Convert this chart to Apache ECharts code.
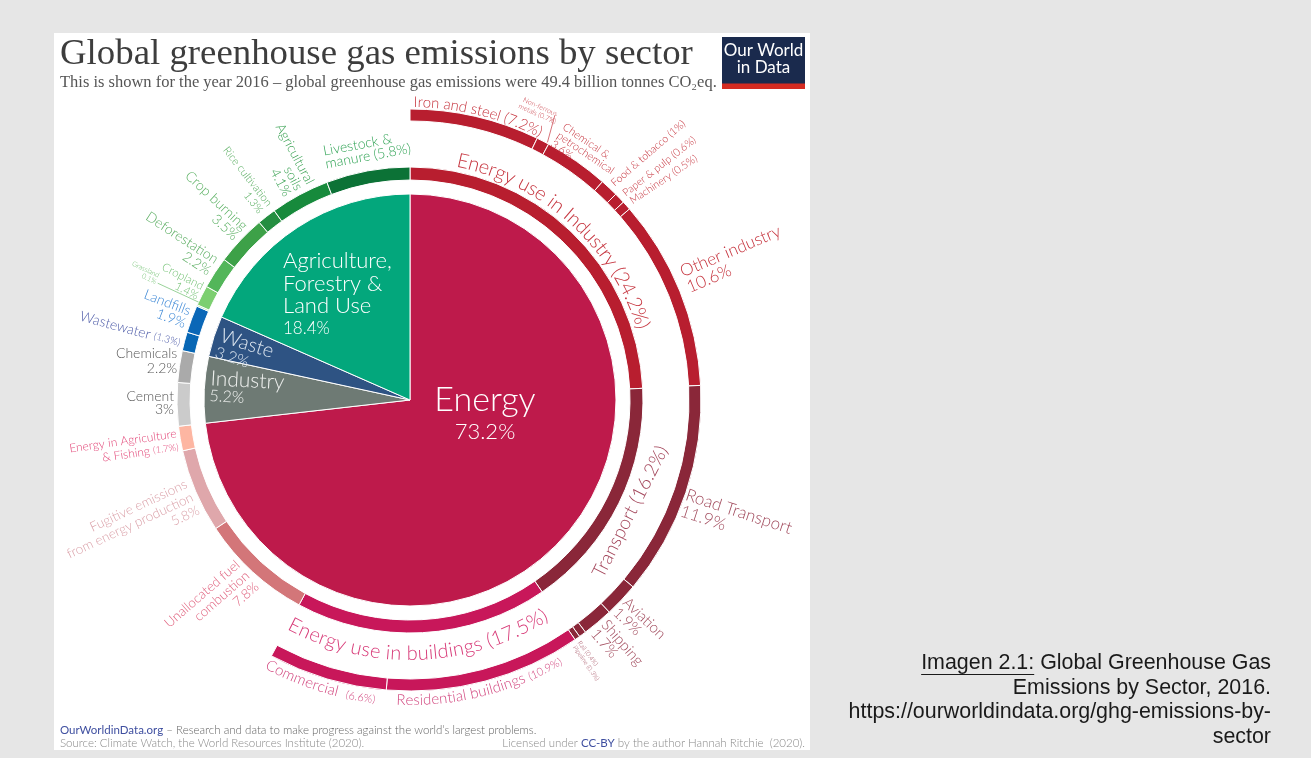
<!DOCTYPE html>
<html>
<head>
<meta charset="utf-8">
<title>Global greenhouse gas emissions by sector</title>
<script src="https://cdn.jsdelivr.net/npm/echarts@6.0.0/dist/echarts.min.js"></script>
<style>
html,body{margin:0;padding:0;background:#e6e6e6;}
#chart{width:1311px;height:758px;}
</style>
</head>
<body>
<div id="chart"></div>
<script>
// ---- Share of global greenhouse gas emissions in 2016 (%) ----
const sectors = ['Energy', 'Industry', 'Waste', 'Agriculture, Forestry & Land Use'];
const sectorValues = [73.2, 5.2, 3.2, 18.4];

const subSectors = [
  'Energy use in Industry', 'Transport', 'Energy use in buildings',
  'Unallocated fuel combustion', 'Fugitive emissions from energy production',
  'Energy in Agriculture & Fishing', 'Cement', 'Chemicals', 'Wastewater', 'Landfills',
  'Grassland', 'Cropland', 'Deforestation', 'Crop burning', 'Rice cultivation',
  'Agricultural soils', 'Livestock & manure'
];
const subSectorValues = [24.2, 16.2, 17.5, 7.8, 5.8, 1.7, 3, 2.2, 1.3, 1.9, 0.1, 1.4, 2.2, 3.5, 1.3, 4.1, 5.8];

const endUses = [
  'Iron and steel', 'Non-ferrous metals', 'Chemical & petrochemical', 'Food & tobacco',
  'Paper & pulp', 'Machinery', 'Other industry', 'Road Transport', 'Aviation', 'Shipping',
  'Rail', 'Pipeline', 'Residential buildings', 'Commercial'
];
const endUseValues = [7.2, 0.7, 3.6, 1, 0.6, 0.5, 10.6, 11.9, 1.9, 1.7, 0.4, 0.3, 10.9, 6.6];

// ---- Colours ----
const RED = '#B81E2F', MAROON = '#8A2739', MAGENTA = '#C8175A';
const sectorColors = ['#BE1A4B', '#6E7A74', '#2E5383', '#03A77C'];
const subSectorColors = [
  RED, MAROON, MAGENTA, '#D37679', '#DFA7AB', '#FDB6A2', '#CBCBCB', '#AAAAAA',
  '#0867B5', '#0A67B7', '#9ADB8E', '#7CCF70', '#53B65A', '#3DA148', '#248E41', '#178A3C', '#0C7236'
];
const endUseColors = [RED, RED, RED, RED, RED, RED, RED, MAROON, MAROON, MAROON, MAROON, MAROON, MAGENTA, MAGENTA];

// ---- Geometry ----
const CX = 410, CY = 400;
const R_PIE = 206, R_MID = [220, 233], R_OUT = [279, 291];
const LATO = 'Lato', SERIF = 'Liberation Serif', SANS = 'Liberation Sans';

const TOTAL = sectorValues.reduce((a, b) => a + b, 0);
const sum = a => a.reduce((s, v) => s + v, 0);

const cv = document.createElement('canvas').getContext('2d');
function textWidth(s, size, family, weight) {
  cv.font = `${weight} ${size}px "${family}"`;
  return cv.measureText(s).width;
}
function fitSize(s, family, weight, width) {
  return 20 * width / textWidth(s, 20, family, weight);
}
const rad = d => d * Math.PI / 180;
function polar(deg, r) {
  const a = rad(deg);
  return [CX + r * Math.sin(a), CY - r * Math.cos(a)];
}
function spans(values) {
  let acc = 0;
  return values.map(v => { const s = acc; acc += v; return { start: s / TOTAL * 360, mid: (s + v / 2) / TOTAL * 360 }; });
}
const RINGS = {
  sector: { names: sectors, values: sectorValues, spans: spans(sectorValues) },
  sub: { names: subSectors, values: subSectorValues, spans: spans(subSectorValues) },
  end: { names: endUses, values: endUseValues, spans: spans(endUseValues) }
};

// ---- Label placement (angles are offsets from the slice's middle) ----
const C_IND = '#C6353F', C_TRA = '#A24C5E';
const LABELS = [
  // inner pie
  { ring: 'sector', name: 'Energy', kind: 'inner', dx: 75, dy: 13, align: 'center', va: 'middle',
    text: '{a|Energy}\n{b|{v}%}', rich: { a: [34, 38], b: [22, 26] }, color: '#ffffff' },
  { ring: 'sector', name: 'Agriculture, Forestry & Land Use', kind: 'inner', dx: -127, dy: -150, align: 'left', va: 'top',
    text: '{a|Agriculture,}\n{a|Forestry &}\n{a|Land Use}\n{b|{v}%}', rich: { a: [22, 22.5], b: [17, 22] }, color: '#ffffff' },
  { ring: 'sector', name: 'Waste', kind: 'inner', dx: -186, dy: -74, rot: -18, align: 'left', va: 'top',
    text: '{a|Waste}\n{b|{v}%}', rich: { a: [20, 19], b: [16, 17] }, color: '#DDE6F0' },
  { ring: 'sector', name: 'Industry', kind: 'inner', dx: -199, dy: -31, rot: -3, align: 'left', va: 'top',
    text: '{a|Industry}\n{b|{v}%}', rich: { a: [21, 19], b: [16, 16] }, color: '#EEF0EE' },

  // middle ring
  { ring: 'sub', name: 'Energy use in Industry', kind: 'arcOut', dAng: -1.5, r: 238, segs: [['Energy use in Industry ({v}%)', 20]], color: C_IND },
  { ring: 'sub', name: 'Transport', kind: 'tanIn', dAng: 0.6, r: 247, size: 19, text: 'Transport ({v}%)', color: '#A3455A' },
  { ring: 'sub', name: 'Energy use in buildings', kind: 'arcIn', dAng: 1, r: 260, segs: [['Energy use in buildings ({v}%)', 20]], color: '#D83C79' },
  { ring: 'sub', name: 'Unallocated fuel combustion', kind: 'rot', dAng: 0.6, r: 238, rot: 41, align: 'right', size: 13.5, lh: 14.5,
    text: 'Unallocated fuel\ncombustion\n{v}%', color: '#E0637F' },
  { ring: 'sub', name: 'Fugitive emissions from energy production', kind: 'rot', dAng: -0.9, r: 238, rot: 25, align: 'right', size: 13.5, lh: 14.5,
    text: 'Fugitive emissions\nfrom energy production\n{v}%', color: '#DBA2AA' },
  { ring: 'sub', name: 'Energy in Agriculture & Fishing', kind: 'rot', dAng: -0.3, r: 236, rot: 8, align: 'right',
    text: '{a|Energy in Agriculture}\n{a|& Fishing }{b|({v}%)}', rich: { a: [12, 13.5], b: [9.5, 13.5] }, color: '#E24577' },
  { ring: 'sub', name: 'Cement', kind: 'rot', dAng: 0.4, r: 236, rot: 0, align: 'right', size: 14, lh: 13.5, text: 'Cement\n{v}%', color: '#585858' },
  { ring: 'sub', name: 'Chemicals', kind: 'rot', dAng: 1.2, r: 236, rot: 0, align: 'right', size: 14, lh: 15, text: 'Chemicals\n{v}%', color: '#585858' },
  { ring: 'sub', name: 'Wastewater', kind: 'rot', dAng: -0.6, r: 237, rot: -15, align: 'right',
    text: '{a|Wastewater }{b|({v}%)}', rich: { a: [14, 15], b: [10, 15] }, color: '#4D5BA8' },
  { ring: 'sub', name: 'Landfills', kind: 'rot', dAng: 0, r: 237, rot: -21, align: 'right', size: 14, lh: 13.5, text: 'Landfills\n{v}%', color: '#3D88D6' },
  { ring: 'sub', name: 'Grassland', kind: 'rot', dAng: 1.7, r: 280, rot: -25, align: 'right', size: 7, lh: 7, text: 'Grassland\n{v}%', color: '#6DBF6D',
    leader: [0.9, 233, 0.9, 278] },
  { ring: 'sub', name: 'Cropland', kind: 'rot', dAng: 0.7, r: 236, rot: -27, align: 'right', size: 11.5, lh: 11, text: 'Cropland\n{v}%', color: '#72C173' },
  { ring: 'sub', name: 'Deforestation', kind: 'rot', dAng: 1.1, r: 238, rot: -33, align: 'right', size: 14, lh: 13.5, text: 'Deforestation\n{v}%', color: '#5CAE63' },
  { ring: 'sub', name: 'Crop burning', kind: 'rot', dAng: 1.3, r: 238, rot: -43, align: 'right', size: 14, lh: 13.5, text: 'Crop burning\n{v}%', color: '#5AB062' },
  { ring: 'sub', name: 'Rice cultivation', kind: 'rot', dAng: 0.9, r: 240, rot: -52, align: 'right', size: 11, lh: 11.5, text: 'Rice cultivation\n{v}%', color: '#57AD5F' },
  { ring: 'sub', name: 'Agricultural soils', kind: 'rot', dAng: 0.5, r: 238, rot: -61.7, align: 'right', size: 13.5, lh: 13, text: 'Agricultural\nsoils\n{v}%', color: '#38A151' },
  { ring: 'sub', name: 'Livestock & manure', kind: 'rot', dAng: -8.6, r: 270, rot: 10.4, align: 'left', va: 'top', size: 14, lh: 13, text: 'Livestock &\nmanure ({v}%)', color: '#34A558' },

  // outer ring
  { ring: 'end', name: 'Iron and steel', kind: 'arcOut', dAng: 0.5, r: 293, segs: [['Iron and steel ({v}%)', 15]], color: C_IND },
  { ring: 'end', name: 'Non-ferrous metals', kind: 'rot', dAng: -3.2, r: 317, rot: -24, align: 'center', size: 7, lh: 7.5,
    text: 'Non-ferrous\nmetals ({v}%)', color: C_IND, leader: [0.9, 292, -0.2, 319] },
  { ring: 'end', name: 'Chemical & petrochemical', kind: 'rot', dAng: -5.8, r: 304, rot: -34, align: 'left', size: 11, lh: 10.5,
    text: 'Chemical &\npetrochemical\n{v}%', color: C_IND },
  { ring: 'end', name: 'Food & tobacco', kind: 'rot', dAng: 0, r: 296, rot: 41, align: 'left', size: 10.5, text: 'Food & tobacco ({v}%)', color: C_IND },
  { ring: 'end', name: 'Paper & pulp', kind: 'rot', dAng: 0, r: 297, rot: 38, align: 'left', size: 10.5, text: 'Paper & pulp ({v}%)', color: C_IND },
  { ring: 'end', name: 'Machinery', kind: 'rot', dAng: 0, r: 297, rot: 34, align: 'left', size: 10.5, text: 'Machinery ({v}%)', color: C_IND },
  { ring: 'end', name: 'Other industry', kind: 'rot', dAng: -4.9, r: 300, rot: 23, align: 'left', va: 'top', size: 17, lh: 17, text: 'Other industry\n{v}%', color: C_IND },
  { ring: 'end', name: 'Road Transport', kind: 'rot', dAng: -1.3, r: 292, rot: -18, align: 'left', va: 'top', size: 17, lh: 17, text: 'Road Transport\n{v}%', color: C_TRA },
  { ring: 'end', name: 'Aviation', kind: 'rot', dAng: -1.8, r: 294, rot: -43.4, align: 'left', va: 'top', size: 15, lh: 14, text: 'Aviation\n{v}%', color: C_TRA },
  { ring: 'end', name: 'Shipping', kind: 'rot', dAng: -2.4, r: 295, rot: -49, align: 'left', va: 'top', size: 15, lh: 14, text: 'Shipping\n{v}%', color: C_TRA },
  { ring: 'end', name: 'Rail', kind: 'rot', dAng: 1.4, r: 295, rot: -53, align: 'left', size: 6.5, text: 'Rail ({v}%)', color: C_TRA },
  { ring: 'end', name: 'Pipeline', kind: 'rot', dAng: 1.4, r: 296, rot: -55, align: 'left', size: 6.5, text: 'Pipeline ({v}%)', color: C_TRA },
  { ring: 'end', name: 'Residential buildings', kind: 'arcIn', dAng: 1.2, r: 305, segs: [['Residential buildings ', 15], ['({v}%)', 11]], color: '#D2477F' },
  { ring: 'end', name: 'Commercial', kind: 'arcIn', dAng: 1.0, r: 305, segs: [['Commercial  ', 15], ['({v}%)', 11]], color: '#D2477F' }
];

function fillValue(t, v) { return t.split('{v}').join(String(v)); }

function textStyle(l, text) {
  const st = {
    text, fill: l.color, fontFamily: LATO, fontWeight: 300,
    align: l.align || 'left', textAlign: l.align || 'left',
    verticalAlign: l.va || 'middle', textVerticalAlign: l.va || 'middle'
  };
  if (l.rich) {
    st.rich = {};
    Object.keys(l.rich).forEach(k => {
      const [fs, lh] = l.rich[k];
      st.rich[k] = { fontSize: fs, lineHeight: lh, fontFamily: LATO, fontWeight: 300, fill: l.color, color: l.color };
    });
  } else {
    st.fontSize = l.size;
    st.lineHeight = l.lh || Math.round(l.size * 1.1);
  }
  return st;
}

// Characters laid one by one along an arc around the chart centre.
function arcText(segs, thetaC, rBase, outward, color) {
  const chars = [];
  segs.forEach(([t, sz]) => { for (const ch of t) chars.push({ ch, sz, w: textWidth(ch, sz, LATO, 300) }); });
  const total = chars.reduce((a, c) => a + c.w, 0);
  const maxSz = Math.max(...chars.map(c => c.sz));
  const rRef = outward ? rBase + 0.32 * maxSz : rBase - 0.32 * maxSz;
  const out = [];
  let acc = 0;
  chars.forEach(c => {
    const off = (acc + c.w / 2 - total / 2) / rRef;
    const th = rad(thetaC) + (outward ? off : -off);
    const r = outward ? rBase + 0.32 * c.sz : rBase - 0.32 * c.sz;
    out.push({
      type: 'text', x: CX + r * Math.sin(th), y: CY - r * Math.cos(th),
      rotation: outward ? -th : Math.PI - th, silent: true, z: 20,
      style: { text: c.ch, fill: color, fontSize: c.sz, fontFamily: LATO, fontWeight: 300,
        align: 'center', textAlign: 'center', verticalAlign: 'middle', textVerticalAlign: 'middle' }
    });
    acc += c.w;
  });
  return out;
}

function buildLabels() {
  const els = [];
  LABELS.forEach(l => {
    const ring = RINGS[l.ring];
    const i = ring.names.indexOf(l.name);
    const v = ring.values[i];
    const mid = ring.spans[i].mid;
    const theta = mid + (l.dAng || 0);
    if (l.kind === 'arcOut' || l.kind === 'arcIn') {
      const segs = l.segs.map(([t, s]) => [fillValue(t, v), s]);
      els.push(...arcText(segs, theta, l.r, l.kind === 'arcOut', l.color));
      return;
    }
    let x, y, rot = l.rot || 0;
    if (l.kind === 'inner') { x = CX + l.dx; y = CY + l.dy; }
    else { [x, y] = polar(theta, l.r); }
    if (l.kind === 'tanIn') { rot = 180 - theta; l.align = 'center'; }
    els.push({ type: 'text', x, y, rotation: rad(rot), silent: true, z: 20, style: textStyle(l, fillValue(l.text, v)) });
    if (l.leader) {
      const [a1, r1, a2, r2] = l.leader;
      const p1 = polar(mid + a1, r1), p2 = polar(mid + a2, r2);
      els.push({ type: 'line', silent: true, z: 15, shape: { x1: p1[0], y1: p1[1], x2: p2[0], y2: p2[1] },
        style: { stroke: l.color, lineWidth: 0.7 } });
    }
  });
  return els;
}

// ---- Header, footer, logo, caption ----
function frameElements() {
  const els = [];
  els.push({ type: 'rect', z: 0, silent: true, shape: { x: 54, y: 33, width: 756, height: 717 }, style: { fill: '#ffffff' } });

  const title = 'Global greenhouse gas emissions by sector';
  const tSize = fitSize(title, SERIF, 400, 633);
  els.push({ type: 'text', x: 60, y: 54.5, z: 20, silent: true,
    style: { text: title, fill: '#3d3d3d', fontFamily: SERIF, fontSize: tSize, align: 'left', textAlign: 'left', verticalAlign: 'middle', textVerticalAlign: 'middle' } });
  const sub = 'This is shown for the year 2016 – global greenhouse gas emissions were 49.4 billion tonnes CO₂eq.';
  const sSize = fitSize(sub, SERIF, 400, 657);
  els.push({ type: 'text', x: 60, y: 82.5, z: 20, silent: true,
    style: { text: sub, fill: '#555555', fontFamily: SERIF, fontSize: sSize, align: 'left', textAlign: 'left', verticalAlign: 'middle', textVerticalAlign: 'middle' } });

  // logo
  els.push({ type: 'rect', z: 20, silent: true, shape: { x: 722, y: 37, width: 83, height: 52 }, style: { fill: '#1A2A4D' } });
  els.push({ type: 'rect', z: 21, silent: true, shape: { x: 722, y: 83.5, width: 83, height: 5.5 }, style: { fill: '#D42B21' } });
  els.push({ type: 'text', x: 763.5, y: 59, z: 22, silent: true,
    style: { text: 'Our World\nin Data', fill: '#ffffff', fontFamily: LATO, fontWeight: 400, fontSize: 17, lineHeight: 17.5,
      align: 'center', textAlign: 'center', verticalAlign: 'middle', textVerticalAlign: 'middle' } });

  // footer
  const FS = 11.5;
  const fRich = {
    l: { fill: '#3F4FA0', color: '#3F4FA0', fontFamily: LATO, fontWeight: 400, fontSize: FS },
    t: { fill: '#666666', color: '#666666', fontFamily: LATO, fontWeight: 300, fontSize: FS },
    s: { fill: '#8a8a8a', color: '#8a8a8a', fontFamily: LATO, fontWeight: 300, fontSize: FS }
  };
  els.push({ type: 'text', x: 60, y: 730, z: 20, silent: true,
    style: { text: '{l|OurWorldinData.org}{t| – Research and data to make progress against the world’s largest problems.}', rich: fRich,
      align: 'left', textAlign: 'left', verticalAlign: 'middle', textVerticalAlign: 'middle' } });
  els.push({ type: 'text', x: 60, y: 743.5, z: 20, silent: true,
    style: { text: '{s|Source: Climate Watch, the World Resources Institute (2020).}', rich: fRich,
      align: 'left', textAlign: 'left', verticalAlign: 'middle', textVerticalAlign: 'middle' } });
  els.push({ type: 'text', x: 805, y: 743.5, z: 20, silent: true,
    style: { text: '{s|Licensed under }{l|CC-BY}{s| by the author Hannah Ritchie  (2020).}', rich: fRich,
      align: 'right', textAlign: 'right', verticalAlign: 'middle', textVerticalAlign: 'middle' } });

  // caption
  const cap = ['Imagen 2.1: Global Greenhouse Gas', 'Emissions by Sector, 2016.', 'https://ourworldindata.org/ghg-emissions-by-', 'sector'];
  const cSize = fitSize(cap[0], SANS, 400, 350);
  const cRight = 1271;
  const cY = [663, 688, 712.5, 737];
  cap.forEach((line, k) => {
    els.push({ type: 'text', x: cRight, y: cY[k], z: 20, silent: true,
      style: { text: line, fill: '#1a1a1a', fontFamily: SANS, fontSize: cSize, align: 'right', textAlign: 'right', verticalAlign: 'middle', textVerticalAlign: 'middle' } });
  });
  const w0 = textWidth(cap[0], cSize, SANS, 400);
  const wU = textWidth('Imagen 2.1:', cSize, SANS, 400);
  els.push({ type: 'line', z: 20, silent: true,
    shape: { x1: cRight - w0, y1: 674.5, x2: cRight - w0 + wU, y2: 674.5 }, style: { stroke: '#1a1a1a', lineWidth: 1.2 } });
  return els;
}

// ---- Chart ----
const pieBase = {
  type: 'pie', center: [CX, CY], startAngle: 90, clockwise: true, silent: true, animation: false,
  avoidLabelOverlap: false, label: { show: false }, labelLine: { show: false }, emphasis: { disabled: true },
  itemStyle: { borderColor: '#ffffff', borderWidth: 1 }, z: 5
};
const toItems = (names, values, colors) => names.map((n, i) => ({ name: n, value: values[i], itemStyle: { color: colors[i] } }));
const outerItems = toItems(endUses, endUseValues, endUseColors);
outerItems.push({ name: '', value: TOTAL - sum(endUseValues), itemStyle: { color: 'rgba(0,0,0,0)', borderWidth: 0 } });

const chart = echarts.init(document.getElementById('chart'), null, { renderer: 'canvas', width: 1311, height: 758 });
chart.setOption({
  backgroundColor: '#e6e6e6',
  animation: false,
  series: [
    Object.assign({}, pieBase, { name: 'Sector', radius: [0, R_PIE], data: toItems(sectors, sectorValues, sectorColors) }),
    Object.assign({}, pieBase, { name: 'Sub-sector', radius: R_MID, data: toItems(subSectors, subSectorValues, subSectorColors) }),
    Object.assign({}, pieBase, { name: 'End use', radius: R_OUT, data: outerItems })
  ],
  graphic: { elements: frameElements().concat(buildLabels()) }
});
</script>
</body>
</html>
